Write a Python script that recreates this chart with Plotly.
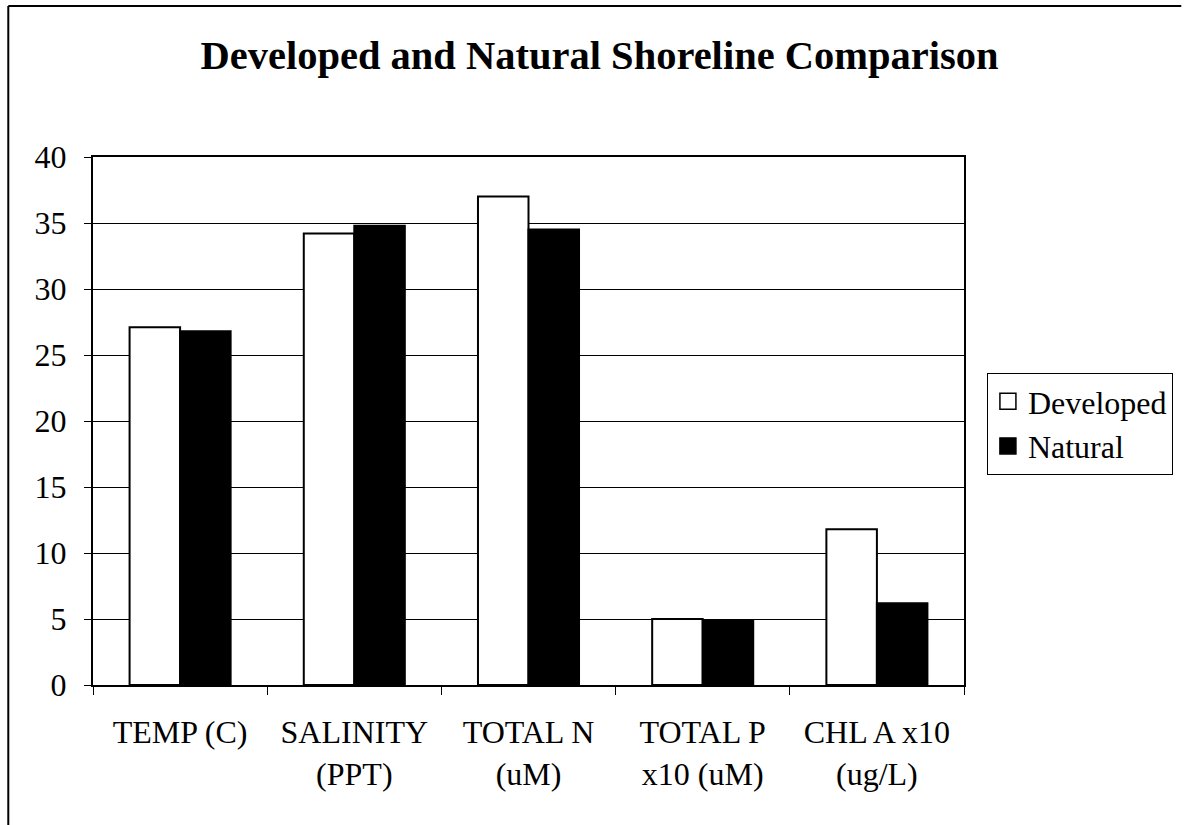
import plotly.graph_objects as go

categories = ["TEMP (C)", "SALINITY<br>(PPT)", "TOTAL N<br>(uM)", "TOTAL P<br>x10 (uM)", "CHL A x10<br>(ug/L)"]
developed = [27.1, 34.2, 37.0, 5.0, 11.8]
natural = [26.8, 34.8, 34.5, 4.9, 6.2]
y_ticks = [0, 5, 10, 15, 20, 25, 30, 35, 40]

FONT = "Liberation Serif, Times New Roman, serif"

W, H = 1185, 825
# plot area in page coordinates: x 93..967, y 157..685
L, T = 93, 157
R = W - 967
B = H - 685
pw, ph = W - L - R, H - T - B


def px(x):
    return (x - L) / pw


def py(y):
    return (H - B - y) / ph


fig = go.Figure()
fig.add_trace(go.Bar(name="Developed", x=categories, y=developed, showlegend=False,
                     marker=dict(color="white", line=dict(color="black", width=2))))
fig.add_trace(go.Bar(name="Natural", x=categories, y=natural, showlegend=False,
                     marker=dict(color="black", line=dict(color="black", width=2))))
# legend entries (square swatches)
fig.add_trace(go.Scatter(name="Developed", x=[None], y=[None], mode="markers",
                         marker=dict(symbol="square", size=17, color="white",
                                     line=dict(color="black", width=1.5))))
fig.add_trace(go.Scatter(name="Natural", x=[None], y=[None], mode="markers",
                         marker=dict(symbol="square", size=17, color="black",
                                     line=dict(color="black", width=1.5))))

border = dict(color="black", width=2)

fig.update_layout(
    template="none",
    width=W, height=H,
    margin=dict(l=L, r=R, t=T, b=B, pad=0),
    paper_bgcolor="white", plot_bgcolor="white",
    font=dict(family=FONT, size=32, color="black"),
    title=dict(text="<b>Developed and Natural Shoreline Comparison</b>",
               font=dict(family=FONT, size=40.5, color="black"),
               x=599.5 / W, xanchor="center", y=1 - 55 / H, yanchor="middle",
               yref="container"),
    barmode="group", bargap=0.42, bargroupgap=0,
    showlegend=True,
    legend=dict(x=px(990), y=py(373), xanchor="left", yanchor="top",
                bordercolor="black", borderwidth=1, bgcolor="white",
                font=dict(family=FONT, size=32, color="black"),
                tracegroupgap=0, itemsizing="trace"),
    xaxis=dict(type="category", showgrid=False, tickson="boundaries",
               ticks="outside", ticklen=8, tickwidth=1, tickcolor="black",
               showline=True, linecolor="black", linewidth=2, mirror=True,
               ticklabelstandoff=18, automargin=False,
               tickfont=dict(family=FONT, size=32, color="black")),
    yaxis=dict(range=[0, 40], tickvals=y_ticks, showgrid=True, gridcolor="black", gridwidth=1,
               ticks="outside", ticklen=7, tickwidth=1, tickcolor="black",
               showline=True, linecolor="black", linewidth=2, mirror=True,
               zeroline=False, ticklabelstandoff=11, automargin=False,
               tickfont=dict(family=FONT, size=32, color="black")),
    shapes=[
        dict(type="line", xref="paper", yref="paper",
             x0=px(8), x1=px(8), y0=py(H), y1=py(6), line=border, layer="below"),
        dict(type="line", xref="paper", yref="paper",
             x0=px(8), x1=px(W), y0=py(6), y1=py(6), line=border, layer="below"),
    ],
)

fig.write_html(
    "out.html",
    config={"displayModeBar": False},
    post_script="document.body.style.margin='0';document.body.style.overflow='hidden';",
)
